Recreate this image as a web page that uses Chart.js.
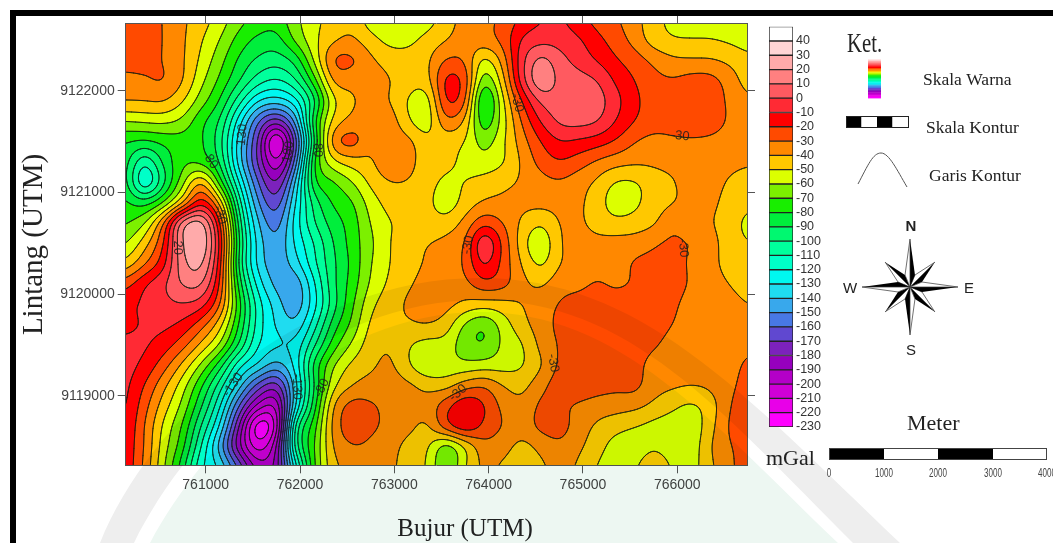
<!DOCTYPE html>
<html><head><meta charset="utf-8">
<style>html,body{margin:0;padding:0;background:#fff;overflow:hidden}#wrap{position:relative;width:1053px;height:543px}canvas{position:absolute;display:block}</style>
<script src="https://cdn.jsdelivr.net/npm/chart.js@4"></script>
</head><body><div id="wrap"><canvas id="main" width="1053" height="543" style="left:0;top:0"></canvas><canvas id="bar" width="70" height="443" style="left:760px;top:0"></canvas></div>
<script>
const eastingTicks=[761000,762000,763000,764000,765000,766000];
const northingTicks=[9119000,9120000,9121000,9122000];
const gridEastings=[760150,760350,760550,760750,760950,761150,761350,761550,761750,761950,762150,762350,762550,762750,762950,763150,763350,763550,763750,763950,764150,764350,764550,764750,764950,765150,765350,765550,765750,765950,766150,766350,766550,766750];
const gridNorthings=[9122700,9122500,9122300,9122100,9121900,9121700,9121500,9121300,9121100,9120900,9120700,9120500,9120300,9120100,9119900,9119700,9119500,9119300,9119100,9118900,9118700,9118500,9118300];
const r00=[-25,-26,-30,-38,-45,-54,-66,-73,-76,-62,-53,-46,-42,-57,-60,-60,-56,-44,-37,-33,-28,-18,-11,-8,-17,-24,-29,-36,-47,-53,-55,-55,-55,-54];
const r01=[-24,-25,-30,-38,-49,-60,-74,-83,-85,-67,-52,-42,-38,-46,-54,-53,-46,-41,-35,-33,-27,-8,-4,-4,-8,-17,-25,-34,-46,-50,-50,-50,-52,-55];
const r02=[-26,-27,-30,-38,-52,-66,-82,-92,-96,-88,-58,-26,-26,-38,-44,-46,-42,-28,-30,-56,-37,-2,16,4,-4,-11,-19,-25,-32,-38,-39,-39,-42,-47];
const r03=[-33,-31,-28,-38,-57,-72,-88,-105,-112,-102,-75,-36,-36,-35,-39,-46,-45,-14,-20,-72,-45,-3,22,7,5,1,-12,-20,-27,-29,-25,-25,-34,-45];
const r04=[-39,-39,-38,-48,-65,-80,-105,-130,-135,-125,-95,-52,-42,-36,-40,-52,-58,-15,-24,-92,-52,-20,3,6,6,6,-6,-18,-24,-24,-24,-23,-32,-38];
const r05=[-60,-58,-57,-62,-78,-90,-125,-160,-180,-150,-80,-46,-37,-33,-33,-50,-58,-30,-40,-82,-55,-29,-9,3,5,2,-10,-20,-25,-25,-25,-25,-31,-36];
const r06=[-80,-82,-78,-75,-78,-95,-135,-170,-225,-170,-90,-30,-22,-38,-33,-36,-48,-46,-50,-66,-52,-35,-20,-10,-12,-15,-21,-30,-34,-32,-31,-32,-34,-37];
const r07=[-85,-112,-88,-72,-74,-90,-135,-172,-205,-160,-75,-52,-45,-42,-30,-37,-44,-47,-53,-57,-52,-39,-26,-20,-25,-32,-36,-38,-38,-37,-37,-37,-37,-38];
const r08=[-85,-128,-95,-65,-35,-75,-120,-160,-185,-140,-78,-72,-61,-47,-40,-40,-46,-53,-50,-46,-42,-39,-34,-31,-36,-42,-52,-52,-45,-41,-36,-36,-41,-46];
const r09=[-78,-85,-72,-45,-10,-40,-105,-150,-170,-130,-95,-78,-72,-55,-46,-47,-47,-58,-46,-39,-38,-37,-36,-37,-38,-45,-58,-53,-45,-41,-37,-37,-44,-48];
const r10=[-72,-62,-30,22,30,-15,-95,-140,-158,-125,-100,-85,-76,-59,-50,-49,-46,-46,-37,-22,-30,-42,-50,-39,-38,-44,-47,-46,-42,-31,-37,-39,-46,-53];
const r11=[-62,-45,-22,22,34,-8,-90,-135,-150,-128,-110,-90,-76,-62,-50,-43,-40,-37,-31,5,-22,-46,-62,-40,-36,-37,-36,-35,-31,-28,-30,-35,-46,-50];
const r12=[-48,-32,-15,18,26,-12,-95,-135,-148,-135,-112,-92,-78,-60,-50,-43,-39,-36,-29,-5,-23,-41,-54,-40,-37,-36,-35,-28,-27,-23,-33,-36,-45,-47];
const r13=[-24,-10,-1,12,14,-18,-85,-125,-145,-150,-122,-92,-76,-58,-48,-41,-37,-35,-33,-22,-25,-37,-42,-34,-34,-28,-33,-29,-25,-23,-32,-35,-40,-44];
const r14=[-12,-8,-3,0,-4,-27,-75,-115,-135,-150,-125,-95,-72,-52,-44,-38,-34,-36,-42,-45,-44,-40,-35,-29,-24,-23,-23,-23,-24,-27,-36,-37,-37,-40];
const r15=[-13,-9,-7,-12,-25,-45,-80,-115,-132,-140,-115,-85,-68,-47,-42,-41,-39,-44,-63,-72,-56,-43,-35,-27,-24,-23,-23,-23,-24,-30,-36,-37,-37,-37];
const r16=[-7,-8,-14,-25,-42,-60,-90,-120,-128,-128,-102,-75,-58,-44,-40,-50,-55,-54,-68,-72,-58,-52,-37,-29,-24,-23,-23,-23,-28,-35,-36,-37,-36,-33];
const r17=[-6,-12,-25,-42,-62,-85,-118,-130,-145,-128,-85,-60,-47,-42,-37,-50,-60,-57,-58,-56,-55,-52,-42,-28,-23,-23,-23,-25,-36,-37,-38,-38,-35,-27];
const r18=[-7,-20,-37,-55,-78,-105,-135,-165,-180,-135,-90,-52,-40,-36,-34,-37,-43,-45,-34,-29,-40,-44,-33,-24,-22,-25,-27,-26,-36,-38,-39,-38,-33,-25];
const r19=[-8,-26,-45,-62,-88,-118,-160,-195,-205,-130,-85,-38,-24,-28,-33,-36,-36,-22,-8,-18,-33,-38,-27,-28,-32,-35,-36,-37,-42,-48,-53,-46,-30,-24];
const r20=[-10,-30,-52,-70,-100,-130,-180,-235,-215,-100,-75,-35,-22,-28,-32,-37,-43,-20,-8,-22,-30,-36,-26,-24,-35,-42,-46,-50,-54,-56,-58,-44,-28,-25];
const r21=[-12,-30,-55,-75,-110,-145,-190,-220,-195,-100,-70,-38,-30,-32,-36,-44,-48,-70,-52,-33,-36,-44,-38,-32,-38,-45,-56,-58,-52,-57,-57,-40,-30,-28];
const r22=[-12,-32,-58,-85,-120,-130,-160,-195,-190,-125,-70,-42,-37,-35,-38,-44,-50,-74,-50,-37,-42,-46,-42,-37,-41,-51,-58,-52,-38,-52,-55,-42,-32,-25];
const anomalyRows=[r00,r01,r02,r03,r04,r05,r06,r07,r08,r09,r10,r11,r12,r13,r14,r15,r16,r17,r18,r19,r20,r21,r22];
const bandLows=[-230,-220,-210,-200,-190,-180,-170,-160,-150,-140,-130,-120,-110,-100,-90,-80,-70,-60,-50,-40,-30,-20,-10,0,10,20,30,40];
const bandColors=['#ff00ff','#e800e8','#cf00d6','#b400c8','#9600be','#7c22bc','#6048d0','#4878e4','#38a8ec','#1fdcf0','#00f8f0','#00ffc8','#00ff9c','#00f870','#00ee3c','#18ee00','#7cf000','#dcff00','#ffc800','#ff8800','#ff4a00','#ff0000','#ff2a34','#ff5a60','#ff8080','#ffaaaa','#ffd5d5','#ffffff'];
const contourLabels=[['-130',761385,9121545,-85],['-80',761046,9121319,55],['-180',761873,9121378,-80],['-80',762191,9121437,90],['-30',761152,9120777,75],['20',760706,9120455,90],['-130',761290,9119107,-55],['-130',761968,9119087,88],['-80',762233,9119077,-65],['-30',764301,9121879,75],['-30',766030,9121555,5],['-30',763781,9120483,-80],['-30',766062,9120453,85],['-30',764684,9119322,80],['-30',763676,9119028,-40]];
const scaleBarLabels=['0','1000','2000','3000','4000'];

const SERIF='"Liberation Serif",serif', SANS='"Liberation Sans",sans-serif';
Chart.defaults.font.family=SANS;

// smooth cubic kernel: blend of Catmull-Rom and B-spline, evaluated only for drawing the surface
function kern(a,b,c,d,t){
  const t2=t*t,t3=t2*t;
  const cr=b+0.5*t*(c-a+t*(2*a-5*b+4*c-d+t*(3*(b-c)+d-a)));
  const bs=((1-t)*(1-t)*(1-t)*a+(3*t3-6*t2+4)*b+(-3*t3+3*t2+3*t+1)*c+t3*d)/6;
  return 0.35*cr+0.65*bs;
}
function fieldAt(e,n){
  const W=gridEastings.length,H=gridNorthings.length;
  let fx=(e-gridEastings[0])/(gridEastings[1]-gridEastings[0]);
  let fy=(gridNorthings[0]-n)/(gridNorthings[0]-gridNorthings[1]);
  fx=Math.max(0,Math.min(W-1.001,fx));fy=Math.max(0,Math.min(H-1.001,fy));
  const ix=Math.floor(fx),iy=Math.floor(fy),tx=fx-ix,ty=fy-iy;
  const col=[];
  for(let j=-1;j<=2;j++){
    const row=anomalyRows[Math.max(0,Math.min(H-1,iy+j))];
    col.push(kern(row[Math.max(0,ix-1)],row[ix],row[Math.min(W-1,ix+1)],row[Math.min(W-1,ix+2)],tx));
  }
  return kern(col[0],col[1],col[2],col[3],ty);
}
function hex(c){return [parseInt(c.slice(1,3),16),parseInt(c.slice(3,5),16),parseInt(c.slice(5,7),16)];}

const contourPlugin={id:'contourPlugin',
  beforeDatasetsDraw(chart){
    const {ctx,chartArea:a,scales:{x,y}}=chart;
    const L=Math.round(a.left),T=Math.round(a.top),w=Math.round(a.right)-L,h=Math.round(a.bottom)-T;
    const off=document.createElement('canvas');off.width=w;off.height=h;const c=off.getContext('2d');
    const f=new Float32Array((w+1)*(h+1));
    for(let j=0;j<=h;j++){const n=y.getValueForPixel(T+j);
      for(let i=0;i<=w;i++){f[j*(w+1)+i]=fieldAt(x.getValueForPixel(L+i),n);}}
    const rgb=bandColors.map(hex);
    const img=c.createImageData(w,h);
    for(let j=0;j<h;j++)for(let i=0;i<w;i++){
      const v=(f[j*(w+1)+i]+f[j*(w+1)+i+1]+f[(j+1)*(w+1)+i]+f[(j+1)*(w+1)+i+1])/4;
      let b=Math.floor((v-bandLows[0])/10);b=Math.max(0,Math.min(rgb.length-1,b));
      const p=(j*w+i)*4;img.data[p]=rgb[b][0];img.data[p+1]=rgb[b][1];img.data[p+2]=rgb[b][2];img.data[p+3]=255;
    }
    c.putImageData(img,0,0);
    c.strokeStyle='rgba(15,25,15,0.85)';c.lineWidth=0.9;c.lineCap='round';
    c.beginPath();
    const lev=bandLows.concat([50]);
    for(const l of lev){
      for(let j=0;j<h;j++)for(let i=0;i<w;i++){
        const q=j*(w+1)+i;
        const v0=f[q],v1=f[q+1],v2=f[q+w+2],v3=f[q+w+1];
        const idx=(v0>l?1:0)|(v1>l?2:0)|(v2>l?4:0)|(v3>l?8:0);
        if(idx===0||idx===15)continue;
        const pts=[];
        if((v0>l)!==(v1>l))pts.push([i+(l-v0)/(v1-v0),j]);
        if((v1>l)!==(v2>l))pts.push([i+1,j+(l-v1)/(v2-v1)]);
        if((v3>l)!==(v2>l))pts.push([i+(l-v3)/(v2-v3),j+1]);
        if((v0>l)!==(v3>l))pts.push([i,j+(l-v0)/(v3-v0)]);
        if(pts.length>=2){c.moveTo(pts[0][0],pts[0][1]);c.lineTo(pts[1][0],pts[1][1]);}
        if(pts.length===4){c.moveTo(pts[2][0],pts[2][1]);c.lineTo(pts[3][0],pts[3][1]);}
      }
    }
    c.stroke();
    ctx.save();ctx.filter='blur(0.5px)';ctx.drawImage(off,L,T);ctx.restore();
    ctx.save();
    ctx.font='13px '+SANS;ctx.fillStyle='rgba(30,30,30,0.85)';ctx.textAlign='center';ctx.textBaseline='middle';
    for(const [t,e,n,r] of contourLabels){
      ctx.save();ctx.translate(x.getPixelForValue(e),y.getPixelForValue(n));ctx.rotate(r*Math.PI/180);ctx.fillText(t,0,0);ctx.restore();
    }
    ctx.restore();
  },
  afterDraw(chart){
    const ctx=chart.ctx;
    ctx.save();
    const text=(s,x,y,font,align,sx,color)=>{ctx.save();ctx.translate(x,y);ctx.scale(sx||1,1);ctx.font=font;ctx.textAlign=align||'left';ctx.textBaseline='alphabetic';ctx.fillStyle=color||'#222';ctx.fillText(s,0,0);ctx.restore();};
    ctx.fillStyle='#000';ctx.fillRect(10,10,1043,6);ctx.fillRect(10,10,6,533);
    text('Bujur (UTM)',465,536,'25px '+SERIF,'center');
    text('Ket.',847,52,'27px '+SERIF,'left',0.77);
    const n=bandColors.length;
    for(let i=0;i<n;i++){ctx.fillStyle=bandColors[n-1-i];ctx.fillRect(868,58+i*40/n,13,40/n+0.4);}
    text('Skala Warna',923,85,'17.5px '+SERIF);
    text('Skala Kontur',926,133,'17.5px '+SERIF);
    text('Garis Kontur',929,181,'17.5px '+SERIF);
    ctx.strokeStyle='#222';ctx.lineWidth=1;
    [0,1,2,3].forEach(i=>{ctx.fillStyle=i%2?'#fff':'#000';ctx.fillRect(846+i*15.5,116.5,15.5,11);});
    ctx.strokeRect(846.5,116.5,62,11);
    ctx.strokeStyle='#555';ctx.beginPath();ctx.moveTo(858,184);ctx.bezierCurveTo(868,165,873,153,881,153);ctx.bezierCurveTo(889,153,897,170,907,187);ctx.stroke();
    const cx=910,cy=287;
    const pt=(d,r)=>[cx+r*Math.sin(d*Math.PI/180),cy-r*Math.cos(d*Math.PI/180)];
    for(const i of [1,3,5,7,0,2,4,6]){
      const d=i*45,tip=pt(d,i%2?35:48),s1=pt(d+22.5,13),s2=pt(d-22.5,13);
      ctx.beginPath();ctx.moveTo(cx,cy);ctx.lineTo(...tip);ctx.lineTo(...s1);ctx.closePath();ctx.fillStyle='#000';ctx.fill();
      ctx.beginPath();ctx.moveTo(cx,cy);ctx.lineTo(...tip);ctx.lineTo(...s2);ctx.closePath();ctx.fillStyle='#fff';ctx.fill();ctx.strokeStyle='#333';ctx.lineWidth=0.7;ctx.stroke();
    }
    text('N',911,231,'bold 15px '+SANS,'center',1,'#222');
    text('S',911,355,'15px '+SANS,'center',1,'#222');
    text('W',850,293,'15px '+SANS,'center',1,'#222');
    text('E',969,293,'15px '+SANS,'center',1,'#222');
    text('Meter',907,430,'22px '+SERIF);
    text('mGal',766,465,'22px '+SERIF);
    const edges=[829,884,938,993,1047];
    for(let i=0;i<4;i++){ctx.fillStyle=i%2?'#fff':'#000';ctx.fillRect(edges[i],448,edges[i+1]-edges[i],11);}
    ctx.strokeStyle='#444';ctx.lineWidth=1;ctx.strokeRect(829.5,448.5,217,11);
    scaleBarLabels.forEach((s,i)=>text(s,edges[i],477,'13px '+SANS,'center',0.62,'#444'));
    // pale seal watermark
    ctx.globalCompositeOperation='multiply';
    const outer=()=>{ctx.moveTo(100,543);ctx.bezierCurveTo(150,420,300,278,480,278);ctx.bezierCurveTo(640,278,740,390,900,543);};
    ctx.beginPath();outer();ctx.lineTo(853,543);ctx.bezierCurveTo(720,410,630,300,480,300);ctx.bezierCurveTo(320,300,190,430,134,543);ctx.closePath();
    ctx.fillStyle='#eeeeee';ctx.fill();
    ctx.beginPath();ctx.moveTo(150,543);ctx.bezierCurveTo(205,440,330,312,480,312);ctx.bezierCurveTo(620,312,710,420,838,543);ctx.closePath();
    ctx.fillStyle='#edf7f2';ctx.fill();
    ctx.restore();
  }
};

function pinTicks(list){return s=>{s.ticks=list.map(v=>({value:v}));};}
const axisBase=(list,labels)=>({type:'linear',afterBuildTicks:pinTicks(list),grid:{drawOnChartArea:false,drawTicks:true,tickLength:8,color:'#555'},border:{color:'#555'},
  ticks:{autoSkip:false,maxRotation:0,minRotation:0,color:'#444',font:{size:14},display:labels,callback:v=>String(v)}});
const X=[760152,766739],Y=[9118316,9122659];
new Chart(document.getElementById('main'),{
  type:'scatter',
  data:{datasets:[{label:'Anomali (mGal)',pointRadius:0,data:anomalyRows.flatMap((row,j)=>row.map((v,i)=>({x:gridEastings[i],y:gridNorthings[j],v})))}]},
  plugins:[contourPlugin],
  options:{responsive:false,animation:false,events:[],
    layout:{padding:0},
    plugins:{legend:{display:false},tooltip:{enabled:false},title:{display:false}},
    scales:{
      x:Object.assign(axisBase(eastingTicks,true),{position:'bottom',min:X[0],max:X[1],afterFit:s=>{s.height=77.7;}}),
      xTop:Object.assign(axisBase(eastingTicks,false),{position:'top',min:X[0],max:X[1],afterFit:s=>{s.height=23.7;}}),
      y:Object.assign(axisBase(northingTicks,true),{position:'left',min:Y[0],max:Y[1],afterFit:s=>{s.width=125.7;},
        title:{display:true,text:'Lintang (UTM)',color:'#222',font:{family:SERIF,size:29},padding:{top:17,bottom:0}}}),
      yRight:Object.assign(axisBase(northingTicks,false),{position:'right',min:Y[0],max:Y[1],afterFit:s=>{s.width=306;}})
    }
  }
});
new Chart(document.getElementById('bar'),{
  type:'bar',
  data:{labels:['mGal'],datasets:bandLows.map((lo,i)=>({data:[[lo,lo+10]],backgroundColor:bandColors[i],borderColor:'#222',borderWidth:1,borderSkipped:false,barPercentage:1,categoryPercentage:1,grouped:false}))},
  options:{responsive:false,animation:false,events:[],
    layout:{padding:{left:9,top:26.7,bottom:16,right:0}},
    plugins:{legend:{display:false},tooltip:{enabled:false}},
    scales:{
      x:{display:false},
      y:{position:'right',min:-230,max:50,afterBuildTicks:pinTicks(bandLows),afterFit:s=>{s.width=37;},
        grid:{display:false,drawTicks:false},border:{display:false},
        ticks:{autoSkip:false,color:'#333',font:{size:12.5},padding:3,callback:v=>String(v)}}
    }
  }
});
</script></body></html>
